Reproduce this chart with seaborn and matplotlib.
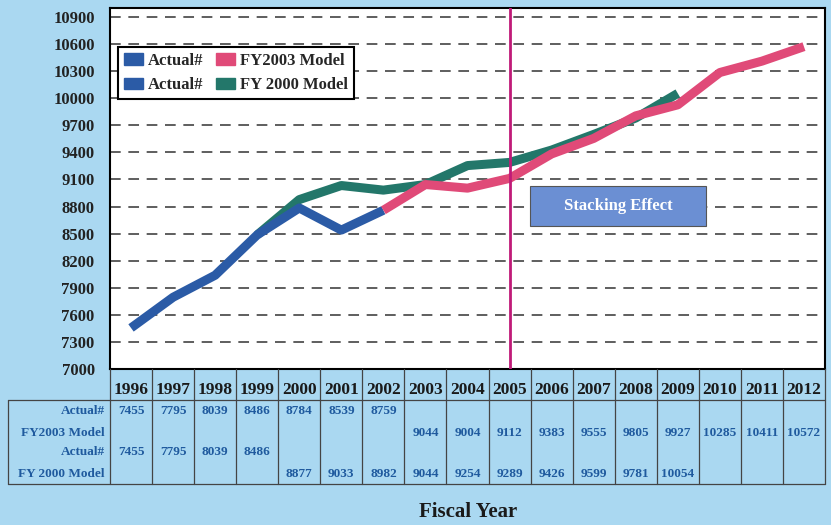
import numpy as np
import pandas as pd
import matplotlib
matplotlib.use("Agg")
import matplotlib.pyplot as plt
from matplotlib.patches import Patch, Rectangle
import seaborn as sns

years = [1996, 1997, 1998, 1999, 2000, 2001, 2002, 2003, 2004, 2005,
         2006, 2007, 2008, 2009, 2010, 2011, 2012]
actual = [7455, 7795, 8039, 8486, 8784, 8539, 8759,
          None, None, None, None, None, None, None, None, None, None]
fy2003_model = [None, None, None, None, None, None, None,
                9044, 9004, 9112, 9383, 9555, 9805, 9927, 10285, 10411, 10572]
actual_2 = [7455, 7795, 8039, 8486,
            None, None, None, None, None, None, None, None, None, None, None, None, None]
fy2000_model = [None, None, None, None, 8877, 9033, 8982, 9044, 9254, 9289,
                9426, 9599, 9781, 10054, None, None, None]

row_labels = ["Actual#", "FY2003 Model", "Actual#", "FY 2000 Model"]
rows = [actual, fy2003_model, actual_2, fy2000_model]
y_ticks = list(range(7000, 10901, 300))
marker_year = 2005
note_text = "Stacking Effect"

c_actual = "#2b5ba6"
c_2003 = "#e04a78"
c_2000 = "#23776a"
c_bg = "#aad8f1"
c_txt = "#1f5a9e"

sns.set_theme(style="white")
plt.rcParams["font.family"] = ["Liberation Serif", "DejaVu Serif"]
plt.rcParams["font.weight"] = "bold"

W, H = 831, 525
fig = plt.figure(figsize=(W / 100, H / 100), dpi=100, facecolor=c_bg)

L, R, T, B = 110, 825, 8, 369
ax = fig.add_axes([L / W, 1 - B / H, (R - L) / W, (B - T) / H])
ax.set_facecolor("white")


def series_frame(name, vals, lead=None):
    """Long-form rows for one line; `lead` prepends a joining point."""
    pts = []
    if lead is not None:
        pts.append(lead)
    pts += [(i, v) for i, v in enumerate(vals) if v is not None]
    return pd.DataFrame({"pos": [p[0] for p in pts],
                         "value": [p[1] for p in pts],
                         "series": name})


i99 = years.index(1999)
i02 = years.index(2002)
df = pd.concat([
    series_frame("FY 2000 Model", fy2000_model, (i99, actual_2[i99])),
    series_frame("Actual#", actual),
    series_frame("FY2003 Model", fy2003_model, (i02, actual[i02])),
], ignore_index=True)

palette = {"FY 2000 Model": c_2000, "Actual#": c_actual, "FY2003 Model": c_2003}
for name in ["FY 2000 Model", "Actual#", "FY2003 Model"]:
    sns.lineplot(data=df[df.series == name], x="pos", y="value", color=palette[name],
                 linewidth=6.5, sort=False, estimator=None, ax=ax, legend=False,
                 solid_capstyle="butt", solid_joinstyle="round", zorder=3)

ax.set_xlim(-0.5, len(years) - 0.5)
ax.set_ylim(7000, 11000)
ax.set_yticks(y_ticks)
ax.set_yticklabels([str(t) for t in y_ticks], fontsize=12, fontweight="bold", color="#222222")
ax.set_xticks([])
ax.set_xlabel("")
ax.set_ylabel("")
ax.tick_params(axis="y", direction="in", length=5, color="black", pad=11)
for t in y_ticks[1:]:
    ax.axhline(t, color="#333333", linewidth=1.1, linestyle=(0, (7, 5)), zorder=1)
for s in ax.spines.values():
    s.set_color("black")
    s.set_linewidth(1.5)

xm = years.index(marker_year)
ax.axvline(xm, color="#c01a78", linewidth=2, zorder=4)

# note box to the right of the marker line
box_x0, box_x1 = xm + 0.49, xm + 4.67
box_y0, box_y1 = 8584, 9028
ax.add_patch(Rectangle((box_x0, box_y0), box_x1 - box_x0, box_y1 - box_y0,
                       facecolor="#6b8fd3", edgecolor="#555555", linewidth=0.8, zorder=5))
ax.text((box_x0 + box_x1) / 2, (box_y0 + box_y1) / 2, note_text, fontsize=12,
        fontweight="bold", color="white", ha="center", va="center", zorder=6)

# legend
handles = [Patch(facecolor=c_actual, edgecolor=c_actual, label=row_labels[0]),
           Patch(facecolor=c_actual, edgecolor=c_actual, label=row_labels[2]),
           Patch(facecolor=c_2003, edgecolor=c_2003, label=row_labels[1]),
           Patch(facecolor=c_2000, edgecolor=c_2000, label=row_labels[3])]
leg = ax.legend(handles=handles, ncol=2, loc="upper left", bbox_to_anchor=(0.0, 0.915),
                frameon=True, fancybox=False, edgecolor="black", framealpha=1,
                prop={"family": "Liberation Serif", "weight": "bold", "size": 12},
                handlelength=1.1, handleheight=0.7, handletextpad=0.3,
                columnspacing=0.8, labelspacing=0.5, borderpad=0.35)
leg.get_frame().set_linewidth(1.5)
leg.set_zorder(7)

# data table below the plot
tab = fig.add_axes([0, 0, 1, 1], facecolor="none")
tab.set_xlim(0, W)
tab.set_ylim(H, 0)
tab.axis("off")
cw = (R - L) / len(years)
line_kw = dict(color="#444444", linewidth=0.9)
tab.plot([8, R], [400, 400], **line_kw)
tab.plot([8, R], [484, 484], **line_kw)
tab.plot([8, 8], [400, 484], **line_kw)
for k in range(len(years) + 1):
    x = L + k * cw
    tab.plot([x, x], [B, 484], **line_kw)
for k, yr in enumerate(years):
    tab.text(L + (k + 0.5) * cw, 390, str(yr), ha="center", va="center",
             fontsize=12.5, fontweight="bold", color="#1a1a1a")
row_y = [411, 433, 452, 474]
for ry, lab, vals in zip(row_y, row_labels, rows):
    tab.text(L - 5, ry, lab, ha="right", va="center", fontsize=9.5,
             fontweight="bold", color=c_txt)
    for k, v in enumerate(vals):
        if v is not None:
            tab.text(L + (k + 0.5) * cw, ry, str(v), ha="center", va="center",
                     fontsize=9.5, fontweight="bold", color=c_txt)

fig.text(468 / W, 1 - 512 / H, "Fiscal Year", ha="center", va="center",
         fontsize=15, fontweight="bold", color="#1a1a1a")

fig.savefig("out.png", dpi=100, facecolor=c_bg)
